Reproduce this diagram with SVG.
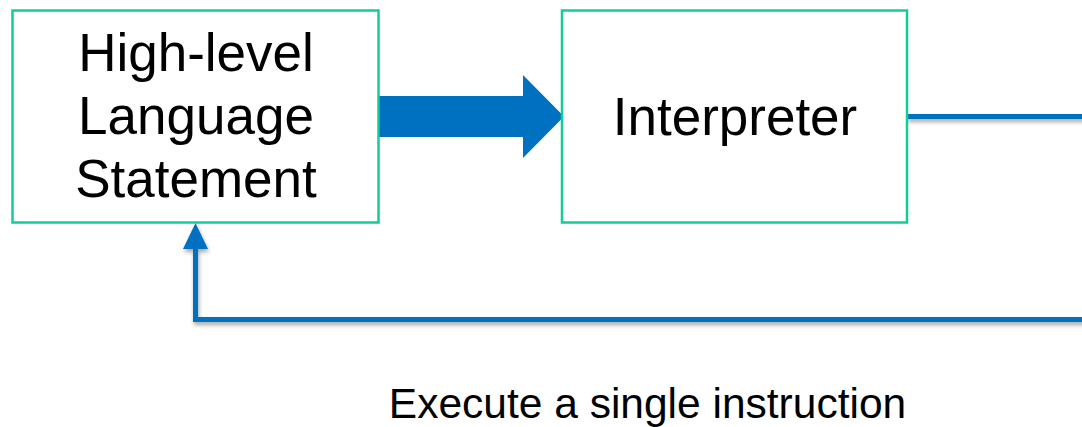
<svg xmlns="http://www.w3.org/2000/svg" width="1082" height="427" viewBox="0 0 1082 427">
<style>
.box{fill:#fff;stroke:#12cc99;stroke-width:2.5}
.t{font-family:"Liberation Sans",Arial,sans-serif;fill:#000;text-anchor:middle}
.line{fill:none;stroke:#0070c0;stroke-width:5;stroke-linejoin:miter}
</style>
<defs>
<filter id="sh" x="-5%" y="-20%" width="110%" height="140%">
<feGaussianBlur in="SourceAlpha" stdDeviation="2"/>
<feOffset dx="1" dy="3" result="b"/>
<feComponentTransfer><feFuncA type="linear" slope="0.35"/></feComponentTransfer>
<feMerge><feMergeNode/><feMergeNode in="SourceGraphic"/></feMerge>
</filter>
</defs>
<rect width="1082" height="427" fill="#fff"/>
<g id="connectors">
<polygon points="376,96 523,96 523,75 564,116.5 523,158 523,137 376,137" fill="#0070c0"/>
<g filter="url(#sh)">
<path class="line" d="M907,116.5 H1090"/>
<path class="line" d="M1090,319.5 H195.5 V245"/>
<polygon points="183,249 208,249 195.5,223" fill="#0070c0"/>
</g>
</g>
<g id="hll">
<rect class="box" x="12.5" y="10.5" width="366" height="212"/>
<text class="t" x="196" y="71" font-size="53">High-level</text>
<text class="t" x="196" y="134" font-size="53">Language</text>
<text class="t" x="196" y="197" font-size="53">Statement</text>
</g>
<g id="interp">
<rect class="box" x="562" y="10.5" width="345" height="212"/>
<text class="t" x="735" y="135" font-size="53">Interpreter</text>
</g>
<text class="t" x="647.5" y="418" font-size="42.5">Execute a single instruction</text>
</svg>
